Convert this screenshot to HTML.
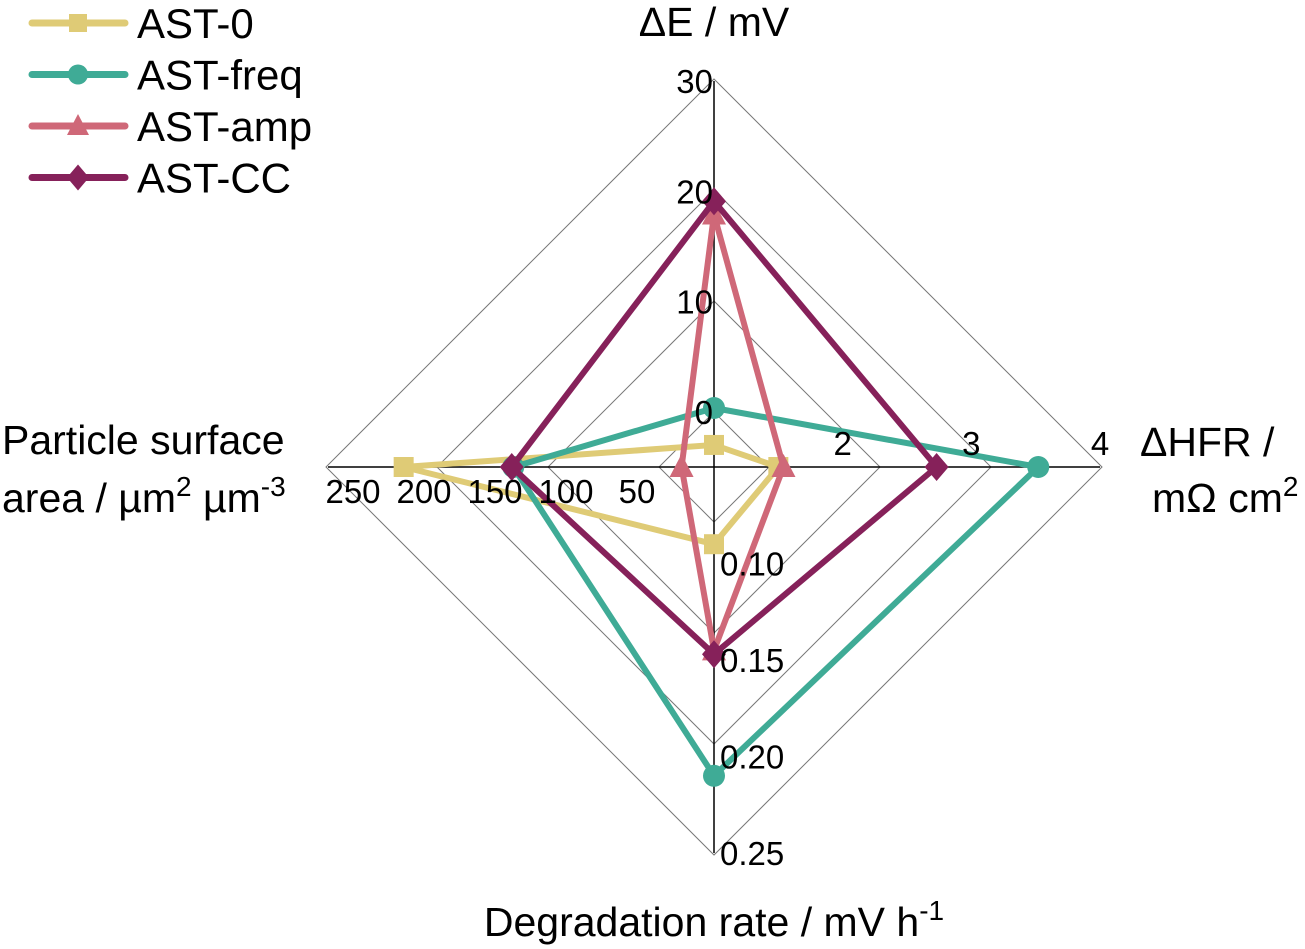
<!DOCTYPE html>
<html><head><meta charset="utf-8"><style>
html,body{margin:0;padding:0;background:#fff;}
svg{display:block;font-family:"Liberation Sans",Arial,sans-serif;}
</style></head><body>
<svg id="chart" width="1305" height="949" viewBox="0 0 1305 949" xmlns="http://www.w3.org/2000/svg">
<g id="grid"></g>
<g id="axes"></g>
<g id="series"></g>
<g id="labels"></g>
<g font-size="41" fill="#000">
<text x="714" y="36" text-anchor="middle">ΔE / mV</text>
<text x="1140" y="456">ΔHFR /</text>
<text x="1152" y="512">mΩ cm<tspan dy="-16" font-size="28">2</tspan></text>
<text x="2" y="454">Particle surface</text>
<text x="2" y="512">area / µm<tspan dy="-16" font-size="28">2</tspan><tspan dy="16"> µm</tspan><tspan dy="-16" font-size="28">-3</tspan></text>
<text x="714" y="936" text-anchor="middle">Degradation rate / mV h<tspan dy="-16" font-size="28">-1</tspan></text>
</g>
<g id="legend"></g>
</svg>
<script>
const seriesNames = ["AST-0", "AST-freq", "AST-amp", "AST-CC"];
const deltaE = [-3.0, 0.35, 17.9, 19.1];
const deltaHFR = [1.5, 3.52, 1.54, 2.73];
const degRate = [0.09, 0.21, 0.145, 0.147];
const surfArea = [201, 130, 21, 131];
const topTicks = [0, 10, 20, 30];
const rightTicks = [2, 3, 4];
const bottomTicks = ["0.10", "0.15", "0.20", "0.25"];
const leftTicks = [250, 200, 150, 100, 50];

const NS = "http://www.w3.org/2000/svg";
const CX = 714, CY = 467, R = 386;
const colors = ["#DFCB76", "#3FAB96", "#CF6878", "#86215A"];
const shapes = ["square", "circle", "triangle", "diamond"];
const rTop = v => (v + 5) / 35 * R;
const rRight = v => (v - 1) / 3 * R;
const rBottom = v => (v - 0.05) / 0.2 * R;
const rLeft = v => v / 250 * R;
const leftLabelX = v => CX - 77 - (v - 50) * 1.42;
function el(tag, attrs, parent) {
  const e = document.createElementNS(NS, tag);
  for (const k in attrs) e.setAttribute(k, attrs[k]);
  parent.appendChild(e); return e;
}
const grid = document.getElementById('grid');
for (let k = 0; k < 4; k++) {
  const r = 55 + 111 * k;
  const p = el('polygon', {points: `${CX},${CY-r} ${CX+r},${CY} ${CX},${CY+r} ${CX-r},${CY}`, fill: 'none', stroke: '#777', 'stroke-width': 1}, grid);
  
  
}
const axes = document.getElementById('axes');
const a1 = el('line', {x1: CX, y1: CY-R, x2: CX, y2: CY+R, stroke: '#000', 'stroke-width': 1.5}, axes);


const a2 = el('line', {x1: CX-R, y1: CY, x2: CX+R, y2: CY, stroke: '#000', 'stroke-width': 1.5}, axes);



const labels = document.getElementById('labels');
function lab(txt, x, y, anchor, name) {
  const t = el('text', {x: x, y: y, 'text-anchor': anchor, 'font-size': 33, fill: '#000'}, labels);
  t.textContent = txt;
  
  
}
topTicks.forEach(v => lab(String(v), CX - 1, CY - rTop(v) + 12, 'end', 'top-tick-label'));
rightTicks.forEach(v => lab(String(v), CX + rRight(v), CY - 12, 'middle', 'right-tick-label'));
bottomTicks.forEach(v => lab(v, CX + 6, CY + rBottom(parseFloat(v)) + 12, 'start', 'bottom-tick-label'));
leftTicks.forEach(v => lab(String(v), leftLabelX(v), CY + 36, 'middle', 'left-tick-label'));

function marker(shape, x, y, color, parent, s) {
  let m;
  if (shape === 'square') m = el('rect', {x: x-s, y: y-s, width: 2*s, height: 2*s, fill: color}, parent);
  else if (shape === 'circle') m = el('circle', {cx: x, cy: y, r: s+1, fill: color}, parent);
  else if (shape === 'triangle') m = el('polygon', {points: `${x},${y-s-3} ${x+s+2},${y+s} ${x-s-2},${y+s}`, fill: color}, parent);
  else m = el('polygon', {points: `${x},${y-s-4} ${x+s+2},${y} ${x},${y+s+4} ${x-s-2},${y}`, fill: color}, parent);
  return m;
}
const series = document.getElementById('series');
seriesNames.forEach((n, i) => {
  const g = el('g', {}, series);
  
  
  const pts = [[CX, CY - rTop(deltaE[i])], [CX + rRight(deltaHFR[i]), CY], [CX, CY + rBottom(degRate[i])], [CX - rLeft(surfArea[i]), CY]];
  const poly = el('polygon', {points: pts.map(p => p.join(',')).join(' '), fill: 'none', stroke: colors[i], 'stroke-width': 6, 'stroke-linejoin': 'round'}, g);
  
  
  pts.forEach(p => {
    const m = marker(shapes[i], p[0], p[1], colors[i], g, 10);
    
    
  });
});
const legend = document.getElementById('legend');
seriesNames.forEach((n, i) => {
  const y = 23 + i * 51.5;
  const g = el('g', {}, legend);
  
  
  el('line', {x1: 32, y1: y, x2: 125, y2: y, stroke: colors[i], 'stroke-width': 7, 'stroke-linecap': 'round'}, g);
  marker(shapes[i], 78, y, colors[i], g, 9);
  const t = el('text', {x: 137, y: y + 15, 'font-size': 42, fill: '#000'}, g);
  t.textContent = n;
});
</script>
</body></html>
